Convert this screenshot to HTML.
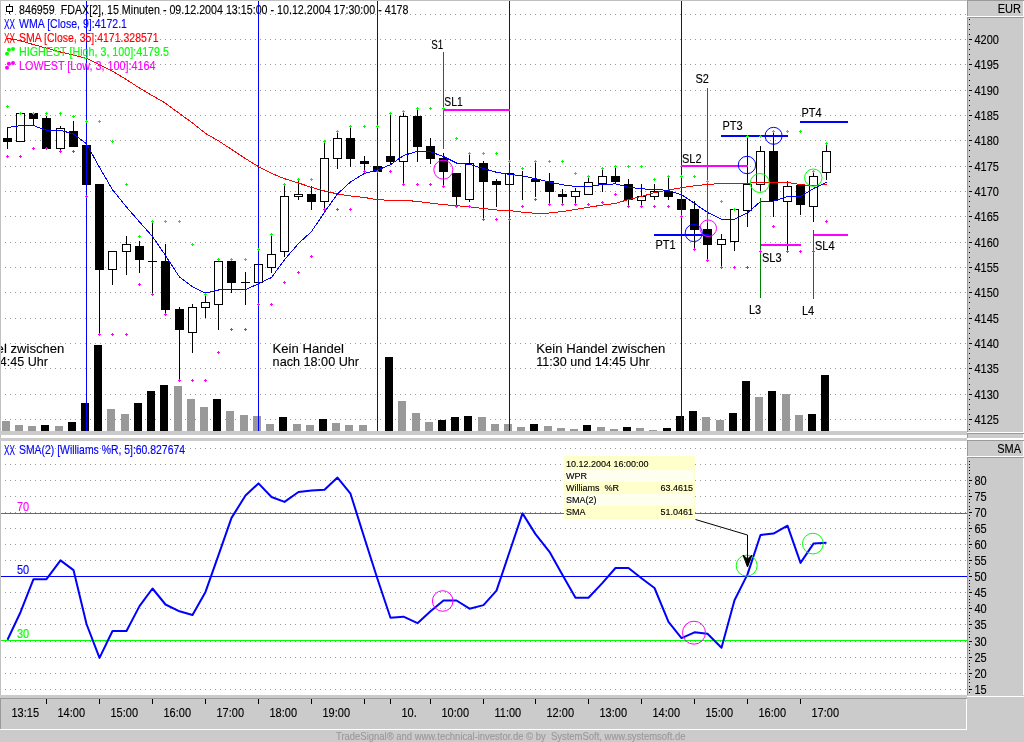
<!DOCTYPE html>
<html><head><meta charset="utf-8"><title>Chart</title><style>html,body{margin:0;padding:0;background:#cbcbcb}svg{display:block}</style></head><body>
<svg width="1024" height="742" viewBox="0 0 1024 742" shape-rendering="crispEdges" font-family="'Liberation Sans', sans-serif" font-size="11">
<rect width="1024" height="742" fill="#cbcbcb"/>
<rect x="1" y="1" width="966" height="430" fill="#fff"/>
<rect x="1" y="435" width="966" height="3" fill="#fff"/>
<rect x="1" y="441" width="966" height="254" fill="#fff"/>
<line x1="5" x2="967" y1="419.5" y2="419.5" stroke="#999" stroke-dasharray="1 4"/>
<line x1="5" x2="967" y1="394.5" y2="394.5" stroke="#999" stroke-dasharray="1 4"/>
<line x1="5" x2="967" y1="368.5" y2="368.5" stroke="#999" stroke-dasharray="1 4"/>
<line x1="5" x2="967" y1="343.5" y2="343.5" stroke="#999" stroke-dasharray="1 4"/>
<line x1="5" x2="967" y1="318.5" y2="318.5" stroke="#999" stroke-dasharray="1 4"/>
<line x1="5" x2="967" y1="292.5" y2="292.5" stroke="#999" stroke-dasharray="1 4"/>
<line x1="5" x2="967" y1="267.5" y2="267.5" stroke="#999" stroke-dasharray="1 4"/>
<line x1="5" x2="967" y1="242.5" y2="242.5" stroke="#999" stroke-dasharray="1 4"/>
<line x1="5" x2="967" y1="216.5" y2="216.5" stroke="#999" stroke-dasharray="1 4"/>
<line x1="5" x2="967" y1="191.5" y2="191.5" stroke="#999" stroke-dasharray="1 4"/>
<line x1="5" x2="967" y1="166.5" y2="166.5" stroke="#999" stroke-dasharray="1 4"/>
<line x1="5" x2="967" y1="140.5" y2="140.5" stroke="#999" stroke-dasharray="1 4"/>
<line x1="5" x2="967" y1="115.5" y2="115.5" stroke="#999" stroke-dasharray="1 4"/>
<line x1="5" x2="967" y1="90.5" y2="90.5" stroke="#999" stroke-dasharray="1 4"/>
<line x1="5" x2="967" y1="64.5" y2="64.5" stroke="#999" stroke-dasharray="1 4"/>
<line x1="5" x2="967" y1="39.5" y2="39.5" stroke="#999" stroke-dasharray="1 4"/>
<line x1="5" x2="967" y1="14.5" y2="14.5" stroke="#999" stroke-dasharray="1 4"/>
<line x1="5" x2="967" y1="448.5" y2="448.5" stroke="#999" stroke-dasharray="1 4"/>
<line x1="5" x2="967" y1="464.5" y2="464.5" stroke="#999" stroke-dasharray="1 4"/>
<line x1="5" x2="967" y1="480.5" y2="480.5" stroke="#999" stroke-dasharray="1 4"/>
<line x1="5" x2="967" y1="496.5" y2="496.5" stroke="#999" stroke-dasharray="1 4"/>
<line x1="5" x2="967" y1="512.5" y2="512.5" stroke="#999" stroke-dasharray="1 4"/>
<line x1="5" x2="967" y1="528.5" y2="528.5" stroke="#999" stroke-dasharray="1 4"/>
<line x1="5" x2="967" y1="544.5" y2="544.5" stroke="#999" stroke-dasharray="1 4"/>
<line x1="5" x2="967" y1="560.5" y2="560.5" stroke="#999" stroke-dasharray="1 4"/>
<line x1="5" x2="967" y1="576.5" y2="576.5" stroke="#999" stroke-dasharray="1 4"/>
<line x1="5" x2="967" y1="592.5" y2="592.5" stroke="#999" stroke-dasharray="1 4"/>
<line x1="5" x2="967" y1="608.5" y2="608.5" stroke="#999" stroke-dasharray="1 4"/>
<line x1="5" x2="967" y1="624.5" y2="624.5" stroke="#999" stroke-dasharray="1 4"/>
<line x1="5" x2="967" y1="641.5" y2="641.5" stroke="#999" stroke-dasharray="1 4"/>
<line x1="5" x2="967" y1="657.5" y2="657.5" stroke="#999" stroke-dasharray="1 4"/>
<line x1="5" x2="967" y1="673.5" y2="673.5" stroke="#999" stroke-dasharray="1 4"/>
<line x1="5" x2="967" y1="689.5" y2="689.5" stroke="#999" stroke-dasharray="1 4"/>
<rect x="2.0" y="421" width="8" height="10" fill="#999"/>
<rect x="15.0" y="425" width="8" height="6" fill="#999"/>
<rect x="28.0" y="426" width="8" height="5" fill="#999"/>
<rect x="41.0" y="425" width="8" height="6" fill="#000"/>
<rect x="55.0" y="426" width="8" height="5" fill="#999"/>
<rect x="68.0" y="422" width="8" height="9" fill="#000"/>
<rect x="81.0" y="403" width="8" height="28" fill="#000"/>
<rect x="94.0" y="345" width="8" height="86" fill="#000"/>
<rect x="107.0" y="409" width="8" height="22" fill="#999"/>
<rect x="121.0" y="414" width="8" height="17" fill="#999"/>
<rect x="134.0" y="403" width="8" height="28" fill="#000"/>
<rect x="147.0" y="391" width="8" height="40" fill="#000"/>
<rect x="160.0" y="385" width="8" height="46" fill="#000"/>
<rect x="174.0" y="386" width="8" height="45" fill="#999"/>
<rect x="187.0" y="399" width="8" height="32" fill="#999"/>
<rect x="200.0" y="407" width="8" height="24" fill="#999"/>
<rect x="213.0" y="399" width="8" height="32" fill="#000"/>
<rect x="226.0" y="411" width="8" height="20" fill="#999"/>
<rect x="240.0" y="415" width="8" height="16" fill="#999"/>
<rect x="253.0" y="416" width="8" height="15" fill="#999"/>
<rect x="266.0" y="424" width="8" height="7" fill="#999"/>
<rect x="279.0" y="417" width="8" height="14" fill="#000"/>
<rect x="293.0" y="424" width="8" height="7" fill="#999"/>
<rect x="306.0" y="425" width="8" height="6" fill="#999"/>
<rect x="319.0" y="419" width="8" height="12" fill="#000"/>
<rect x="332.0" y="423" width="8" height="8" fill="#999"/>
<rect x="345.0" y="425" width="8" height="6" fill="#999"/>
<rect x="359.0" y="425" width="8" height="6" fill="#999"/>
<rect x="385.0" y="357" width="8" height="74" fill="#000"/>
<rect x="398.0" y="401" width="8" height="30" fill="#999"/>
<rect x="412.0" y="413" width="8" height="18" fill="#999"/>
<rect x="425.0" y="422" width="8" height="9" fill="#999"/>
<rect x="438.0" y="420" width="8" height="11" fill="#000"/>
<rect x="451.0" y="417" width="8" height="14" fill="#000"/>
<rect x="464.0" y="416" width="8" height="15" fill="#000"/>
<rect x="478.0" y="417" width="8" height="14" fill="#999"/>
<rect x="491.0" y="424" width="8" height="7" fill="#999"/>
<rect x="504.0" y="424" width="8" height="7" fill="#999"/>
<rect x="517.0" y="427" width="8" height="4" fill="#999"/>
<rect x="530.0" y="424" width="8" height="7" fill="#000"/>
<rect x="544.0" y="426" width="8" height="5" fill="#999"/>
<rect x="557.0" y="428" width="8" height="3" fill="#999"/>
<rect x="570.0" y="429" width="8" height="2" fill="#999"/>
<rect x="583.0" y="425" width="8" height="6" fill="#000"/>
<rect x="597.0" y="427" width="8" height="4" fill="#999"/>
<rect x="610.0" y="429" width="8" height="2" fill="#999"/>
<rect x="623.0" y="427" width="8" height="4" fill="#000"/>
<rect x="636.0" y="428" width="8" height="3" fill="#999"/>
<rect x="649.0" y="430" width="8" height="1" fill="#999"/>
<rect x="663.0" y="428" width="8" height="3" fill="#000"/>
<rect x="676.0" y="416" width="8" height="15" fill="#000"/>
<rect x="689.0" y="411" width="8" height="20" fill="#000"/>
<rect x="702.0" y="417" width="8" height="14" fill="#999"/>
<rect x="716.0" y="420" width="8" height="11" fill="#999"/>
<rect x="729.0" y="413" width="8" height="18" fill="#000"/>
<rect x="742.0" y="381" width="8" height="50" fill="#000"/>
<rect x="755.0" y="397" width="8" height="34" fill="#999"/>
<rect x="768.0" y="391" width="8" height="40" fill="#000"/>
<rect x="782.0" y="394" width="8" height="37" fill="#999"/>
<rect x="795.0" y="415" width="8" height="16" fill="#999"/>
<rect x="808.0" y="414" width="8" height="17" fill="#000"/>
<rect x="821.0" y="375" width="8" height="56" fill="#000"/>
<line x1="7.5" x2="7.5" y1="128" y2="149" stroke="#000"/>
<rect x="3.0" y="138" width="9" height="4" fill="#000"/>
<line x1="20.5" x2="20.5" y1="113" y2="142" stroke="#000"/>
<rect x="16.5" y="113.5" width="8" height="28" fill="#fff" stroke="#000"/>
<line x1="33.5" x2="33.5" y1="113" y2="125" stroke="#000"/>
<rect x="29.0" y="113" width="9" height="6" fill="#000"/>
<line x1="46.5" x2="46.5" y1="116" y2="149" stroke="#000"/>
<rect x="42.0" y="118" width="9" height="31" fill="#000"/>
<line x1="60.5" x2="60.5" y1="126" y2="152" stroke="#000"/>
<rect x="56.5" y="128.5" width="8" height="20" fill="#fff" stroke="#000"/>
<line x1="73.5" x2="73.5" y1="121" y2="147" stroke="#000"/>
<rect x="69.0" y="131" width="9" height="16" fill="#000"/>
<line x1="86.5" x2="86.5" y1="141" y2="197" stroke="#000"/>
<rect x="82.0" y="145" width="9" height="40" fill="#000"/>
<line x1="99.5" x2="99.5" y1="184" y2="334" stroke="#000"/>
<rect x="95.0" y="184" width="9" height="86" fill="#000"/>
<line x1="112.5" x2="112.5" y1="251" y2="285" stroke="#000"/>
<rect x="108.5" y="251.5" width="8" height="18" fill="#fff" stroke="#000"/>
<line x1="126.5" x2="126.5" y1="236" y2="275" stroke="#000"/>
<rect x="122.5" y="244.5" width="8" height="7" fill="#fff" stroke="#000"/>
<line x1="139.5" x2="139.5" y1="241" y2="273" stroke="#000"/>
<rect x="135.0" y="246" width="9" height="14" fill="#000"/>
<line x1="152.5" x2="152.5" y1="221" y2="295" stroke="#000"/>
<line x1="148.0" x2="157.0" y1="261.5" y2="261.5" stroke="#000"/>
<line x1="165.5" x2="165.5" y1="244" y2="315" stroke="#000"/>
<rect x="161.0" y="261" width="9" height="49" fill="#000"/>
<line x1="179.5" x2="179.5" y1="307" y2="380" stroke="#000"/>
<rect x="175.0" y="309" width="9" height="21" fill="#000"/>
<line x1="192.5" x2="192.5" y1="304" y2="353" stroke="#000"/>
<rect x="188.5" y="307.5" width="8" height="25" fill="#fff" stroke="#000"/>
<line x1="205.5" x2="205.5" y1="294" y2="318" stroke="#000"/>
<rect x="201.5" y="302.5" width="8" height="5" fill="#fff" stroke="#000"/>
<line x1="218.5" x2="218.5" y1="259" y2="330" stroke="#000"/>
<rect x="214.5" y="261.5" width="8" height="43" fill="#fff" stroke="#000"/>
<line x1="231.5" x2="231.5" y1="261" y2="293" stroke="#000"/>
<rect x="227.0" y="261" width="9" height="22" fill="#000"/>
<line x1="245.5" x2="245.5" y1="272" y2="305" stroke="#000"/>
<line x1="241.0" x2="250.0" y1="282.5" y2="282.5" stroke="#000"/>
<line x1="258.5" x2="258.5" y1="249" y2="283" stroke="#000"/>
<rect x="254.5" y="264.5" width="8" height="18" fill="#fff" stroke="#000"/>
<line x1="271.5" x2="271.5" y1="235" y2="273" stroke="#000"/>
<rect x="267.5" y="254.5" width="8" height="13" fill="#fff" stroke="#000"/>
<line x1="284.5" x2="284.5" y1="184" y2="257" stroke="#000"/>
<rect x="280.5" y="196.5" width="8" height="55" fill="#fff" stroke="#000"/>
<line x1="298.5" x2="298.5" y1="180" y2="200" stroke="#000"/>
<rect x="294.5" y="194.5" width="8" height="2" fill="#fff" stroke="#000"/>
<line x1="311.5" x2="311.5" y1="186" y2="210" stroke="#000"/>
<rect x="307.0" y="194" width="9" height="8" fill="#000"/>
<line x1="324.5" x2="324.5" y1="141" y2="210" stroke="#000"/>
<rect x="320.5" y="158.5" width="8" height="43" fill="#fff" stroke="#000"/>
<line x1="337.5" x2="337.5" y1="131" y2="169" stroke="#000"/>
<rect x="333.5" y="138.5" width="8" height="20" fill="#fff" stroke="#000"/>
<line x1="350.5" x2="350.5" y1="126" y2="167" stroke="#000"/>
<rect x="346.0" y="138" width="9" height="21" fill="#000"/>
<line x1="364.5" x2="364.5" y1="156" y2="171" stroke="#000"/>
<rect x="360.0" y="161" width="9" height="3" fill="#000"/>
<line x1="377.5" x2="377.5" y1="166" y2="172" stroke="#000"/>
<rect x="373.0" y="166" width="9" height="6" fill="#000"/>
<line x1="390.5" x2="390.5" y1="113" y2="164" stroke="#000"/>
<rect x="386.0" y="156" width="9" height="6" fill="#000"/>
<line x1="403.5" x2="403.5" y1="111" y2="185" stroke="#000"/>
<rect x="399.5" y="116.5" width="8" height="45" fill="#fff" stroke="#000"/>
<line x1="417.5" x2="417.5" y1="108" y2="162" stroke="#000"/>
<rect x="413.0" y="116" width="9" height="31" fill="#000"/>
<line x1="430.5" x2="430.5" y1="138" y2="164" stroke="#000"/>
<rect x="426.0" y="146" width="9" height="13" fill="#000"/>
<line x1="443.5" x2="443.5" y1="153" y2="187" stroke="#000"/>
<rect x="439.0" y="158" width="9" height="14" fill="#000"/>
<line x1="456.5" x2="456.5" y1="173" y2="206" stroke="#000"/>
<rect x="452.0" y="173" width="9" height="24" fill="#000"/>
<line x1="469.5" x2="469.5" y1="154" y2="202" stroke="#000"/>
<rect x="465.5" y="163.5" width="8" height="36" fill="#fff" stroke="#000"/>
<line x1="483.5" x2="483.5" y1="161" y2="219" stroke="#000"/>
<rect x="479.0" y="163" width="9" height="19" fill="#000"/>
<line x1="496.5" x2="496.5" y1="179" y2="207" stroke="#000"/>
<rect x="492.0" y="181" width="9" height="4" fill="#000"/>
<line x1="509.5" x2="509.5" y1="168" y2="185" stroke="#000"/>
<rect x="505.5" y="173.5" width="8" height="11" fill="#fff" stroke="#000"/>
<line x1="522.5" x2="522.5" y1="171" y2="200" stroke="#000"/>
<line x1="535.5" x2="535.5" y1="161" y2="197" stroke="#000"/>
<rect x="531.0" y="179" width="9" height="3" fill="#000"/>
<line x1="549.5" x2="549.5" y1="173" y2="205" stroke="#000"/>
<rect x="545.0" y="181" width="9" height="11" fill="#000"/>
<line x1="562.5" x2="562.5" y1="189" y2="205" stroke="#000"/>
<rect x="558.0" y="194" width="9" height="3" fill="#000"/>
<line x1="575.5" x2="575.5" y1="188" y2="203" stroke="#000"/>
<rect x="571.5" y="191.5" width="8" height="5" fill="#fff" stroke="#000"/>
<line x1="588.5" x2="588.5" y1="176" y2="195" stroke="#000"/>
<rect x="584.5" y="182.5" width="8" height="12" fill="#fff" stroke="#000"/>
<line x1="602.5" x2="602.5" y1="168" y2="192" stroke="#000"/>
<rect x="598.5" y="176.5" width="8" height="7" fill="#fff" stroke="#000"/>
<line x1="615.5" x2="615.5" y1="166" y2="184" stroke="#000"/>
<rect x="611.0" y="176" width="9" height="6" fill="#000"/>
<line x1="628.5" x2="628.5" y1="179" y2="207" stroke="#000"/>
<rect x="624.0" y="184" width="9" height="16" fill="#000"/>
<line x1="641.5" x2="641.5" y1="184" y2="207" stroke="#000"/>
<rect x="637.5" y="196.5" width="8" height="4" fill="#fff" stroke="#000"/>
<line x1="654.5" x2="654.5" y1="184" y2="200" stroke="#000"/>
<rect x="650.5" y="191.5" width="8" height="5" fill="#fff" stroke="#000"/>
<line x1="668.5" x2="668.5" y1="176" y2="200" stroke="#000"/>
<rect x="664.0" y="191" width="9" height="6" fill="#000"/>
<line x1="681.5" x2="681.5" y1="182" y2="217" stroke="#000"/>
<rect x="677.0" y="199" width="9" height="11" fill="#000"/>
<line x1="694.5" x2="694.5" y1="201" y2="249" stroke="#000"/>
<rect x="690.0" y="209" width="9" height="21" fill="#000"/>
<line x1="707.5" x2="707.5" y1="222" y2="261" stroke="#000"/>
<rect x="703.0" y="229" width="9" height="16" fill="#000"/>
<line x1="721.5" x2="721.5" y1="234" y2="267" stroke="#000"/>
<rect x="717.5" y="239.5" width="8" height="5" fill="#fff" stroke="#000"/>
<line x1="734.5" x2="734.5" y1="209" y2="251" stroke="#000"/>
<rect x="730.5" y="209.5" width="8" height="32" fill="#fff" stroke="#000"/>
<line x1="747.5" x2="747.5" y1="136" y2="227" stroke="#000"/>
<rect x="743.5" y="184.5" width="8" height="26" fill="#fff" stroke="#000"/>
<line x1="760.5" x2="760.5" y1="146" y2="191" stroke="#000"/>
<rect x="756.5" y="151.5" width="8" height="33" fill="#fff" stroke="#000"/>
<line x1="773.5" x2="773.5" y1="131" y2="217" stroke="#000"/>
<rect x="769.0" y="151" width="9" height="50" fill="#000"/>
<line x1="787.5" x2="787.5" y1="181" y2="251" stroke="#000"/>
<rect x="783.5" y="186.5" width="8" height="15" fill="#fff" stroke="#000"/>
<line x1="800.5" x2="800.5" y1="185" y2="215" stroke="#000"/>
<rect x="796.0" y="185" width="9" height="20" fill="#000"/>
<line x1="813.5" x2="813.5" y1="171" y2="222" stroke="#000"/>
<rect x="809.5" y="176.5" width="8" height="30" fill="#fff" stroke="#000"/>
<line x1="826.5" x2="826.5" y1="144" y2="180" stroke="#000"/>
<rect x="822.5" y="151.5" width="8" height="21" fill="#fff" stroke="#000"/>
<line x1="86.5" x2="86.5" y1="1" y2="431" stroke="#00f"/>
<line x1="258.5" x2="258.5" y1="1" y2="431" stroke="#00f"/>
<line x1="377.5" x2="377.5" y1="1" y2="431" stroke="#00f"/>
<line x1="509.5" x2="509.5" y1="1" y2="431" stroke="#00f"/>
<line x1="681.5" x2="681.5" y1="1" y2="431" stroke="#00f"/>
<polyline points="7.5,38.3 20.5,40.7 33.5,44.6 46.5,48.1 60.5,52.0 73.5,55.2 86.5,58.3 99.5,64.7 112.5,71.1 126.5,79.6 139.5,88.1 152.5,95.7 165.5,103.2 179.5,113.6 192.5,123.0 205.5,133.4 218.5,140.9 231.5,149.4 245.5,158.7 258.5,166.6 271.5,173.4 284.5,178.7 298.5,183.0 311.5,187.4 324.5,191.0 337.5,193.9 350.5,196.0 364.5,197.5 377.5,199.7 390.5,200.3 403.5,200.3 417.5,201.4 430.5,203.1 443.5,204.6 456.5,205.7 469.5,206.8 483.5,208.5 496.5,210.0 509.5,210.5 522.5,212.2 535.5,213.3 549.5,213.0 562.5,211.5 575.5,209.4 588.5,207.2 602.5,205.1 615.5,203.4 628.5,199.5 641.5,196.5 654.5,192.6 668.5,190.0 681.5,187.8 694.5,185.7 707.5,184.5 721.5,183.5 734.5,183.3 747.5,183.2 760.5,182.4 773.5,182.4 787.5,182.4 800.5,184.6 813.5,185.8 826.5,184.4" fill="none" stroke="#f00" stroke-width="1" />
<polyline points="7.5,127.6 20.5,125.6 33.5,125.6 46.5,130.3 60.5,130.3 73.5,134.0 86.5,143.8 99.5,167.4 112.5,189.7 126.5,207.0 139.5,222.0 152.5,236.5 165.5,255.5 179.5,277.0 192.5,286.8 205.5,293.0 218.5,290.0 231.5,289.6 245.5,289.6 258.5,283.8 271.5,277.5 284.5,259.7 298.5,243.5 311.5,231.6 324.5,212.2 337.5,193.9 350.5,182.0 364.5,173.4 377.5,170.1 390.5,164.7 403.5,155.5 417.5,151.3 430.5,151.8 443.5,156.5 456.5,163.0 469.5,164.3 483.5,168.6 496.5,172.3 509.5,174.4 522.5,175.9 535.5,178.7 549.5,182.0 562.5,184.8 575.5,186.5 588.5,186.5 602.5,184.4 615.5,183.9 628.5,187.2 641.5,188.9 654.5,189.3 668.5,190.4 681.5,194.7 694.5,203.4 707.5,212.5 721.5,219.1 734.5,219.1 747.5,212.8 760.5,201.6 773.5,201.2 787.5,196.4 800.5,196.4 813.5,188.5 826.5,182.4" fill="none" stroke="#00f" stroke-width="1" />
<line x1="443.5" x2="443.5" y1="52" y2="149" stroke="#f00"/>
<rect x="443" y="109" width="67" height="2" fill="#f0f"/>
<line x1="707.5" x2="707.5" y1="88" y2="223" stroke="#f00"/>
<rect x="681" y="165" width="67" height="2" fill="#f0f"/>
<rect x="654" y="234" width="55" height="2" fill="#00f"/>
<rect x="721" y="135" width="67" height="2" fill="#00f"/>
<rect x="800" y="121" width="48" height="2" fill="#00f"/>
<rect x="760" y="244" width="41" height="2" fill="#f0f"/>
<rect x="814" y="234" width="34" height="2" fill="#f0f"/>
<line x1="760.5" x2="760.5" y1="198" y2="298" stroke="#008000"/>
<line x1="813.5" x2="813.5" y1="230" y2="299" stroke="#008000"/>
<circle cx="443.3" cy="169.7" r="9.5" fill="none" stroke="#f0f" shape-rendering="auto"/>
<circle cx="693.8" cy="233" r="8.6" fill="none" stroke="#00f" shape-rendering="auto"/>
<circle cx="708.2" cy="228.3" r="8.3" fill="none" stroke="#f0f" shape-rendering="auto"/>
<circle cx="747" cy="165" r="8.7" fill="none" stroke="#00f" shape-rendering="auto"/>
<circle cx="773.6" cy="135.8" r="8.5" fill="none" stroke="#00f" shape-rendering="auto"/>
<circle cx="759.8" cy="183" r="9.5" fill="none" stroke="#0f0" shape-rendering="auto"/>
<circle cx="813.3" cy="177.7" r="8.7" fill="none" stroke="#0f0" shape-rendering="auto"/>
<path d="M6 106.5h3M7.5 105v3" stroke="#0f0" fill="none"/>
<path d="M6 156.5h3M7.5 155v3" stroke="#f0f" fill="none"/>
<path d="M19 113.5h3M20.5 112v3" stroke="#0f0" fill="none"/>
<path d="M19 156.5h3M20.5 155v3" stroke="#f0f" fill="none"/>
<path d="M32 113.5h3M33.5 112v3" stroke="#0f0" fill="none"/>
<path d="M32 148.5h3M33.5 147v3" stroke="#f0f" fill="none"/>
<path d="M45 113.5h3M46.5 112v3" stroke="#0f0" fill="none"/>
<path d="M45 148.5h3M46.5 147v3" stroke="#f0f" fill="none"/>
<path d="M59 113.5h3M60.5 112v3" stroke="#0f0" fill="none"/>
<path d="M59 151.5h3M60.5 150v3" stroke="#f0f" fill="none"/>
<path d="M72 116.5h3M73.5 115v3" stroke="#0f0" fill="none"/>
<path d="M72 151.5h3M73.5 150v3" stroke="#f0f" fill="none"/>
<path d="M85 121.5h3M86.5 120v3" stroke="#0f0" fill="none"/>
<path d="M85 196.5h3M86.5 195v3" stroke="#f0f" fill="none"/>
<path d="M98 121.5h3M99.5 120v3" stroke="#0f0" fill="none"/>
<path d="M98 334.5h3M99.5 333v3" stroke="#f0f" fill="none"/>
<path d="M111 141.5h3M112.5 140v3" stroke="#0f0" fill="none"/>
<path d="M111 334.5h3M112.5 333v3" stroke="#f0f" fill="none"/>
<path d="M125 184.5h3M126.5 183v3" stroke="#0f0" fill="none"/>
<path d="M125 334.5h3M126.5 333v3" stroke="#f0f" fill="none"/>
<path d="M138 236.5h3M139.5 235v3" stroke="#0f0" fill="none"/>
<path d="M138 284.5h3M139.5 283v3" stroke="#f0f" fill="none"/>
<path d="M151 221.5h3M152.5 220v3" stroke="#0f0" fill="none"/>
<path d="M151 294.5h3M152.5 293v3" stroke="#f0f" fill="none"/>
<path d="M164 221.5h3M165.5 220v3" stroke="#0f0" fill="none"/>
<path d="M164 314.5h3M165.5 313v3" stroke="#f0f" fill="none"/>
<path d="M178 221.5h3M179.5 220v3" stroke="#0f0" fill="none"/>
<path d="M178 380.5h3M179.5 379v3" stroke="#f0f" fill="none"/>
<path d="M191 244.5h3M192.5 243v3" stroke="#0f0" fill="none"/>
<path d="M191 380.5h3M192.5 379v3" stroke="#f0f" fill="none"/>
<path d="M204 294.5h3M205.5 293v3" stroke="#0f0" fill="none"/>
<path d="M204 380.5h3M205.5 379v3" stroke="#f0f" fill="none"/>
<path d="M217 259.5h3M218.5 258v3" stroke="#0f0" fill="none"/>
<path d="M217 352.5h3M218.5 351v3" stroke="#f0f" fill="none"/>
<path d="M230 259.5h3M231.5 258v3" stroke="#0f0" fill="none"/>
<path d="M230 329.5h3M231.5 328v3" stroke="#f0f" fill="none"/>
<path d="M244 259.5h3M245.5 258v3" stroke="#0f0" fill="none"/>
<path d="M244 329.5h3M245.5 328v3" stroke="#f0f" fill="none"/>
<path d="M257 249.5h3M258.5 248v3" stroke="#0f0" fill="none"/>
<path d="M257 304.5h3M258.5 303v3" stroke="#f0f" fill="none"/>
<path d="M270 234.5h3M271.5 233v3" stroke="#0f0" fill="none"/>
<path d="M270 304.5h3M271.5 303v3" stroke="#f0f" fill="none"/>
<path d="M283 184.5h3M284.5 183v3" stroke="#0f0" fill="none"/>
<path d="M283 282.5h3M284.5 281v3" stroke="#f0f" fill="none"/>
<path d="M297 179.5h3M298.5 178v3" stroke="#0f0" fill="none"/>
<path d="M297 272.5h3M298.5 271v3" stroke="#f0f" fill="none"/>
<path d="M310 179.5h3M311.5 178v3" stroke="#0f0" fill="none"/>
<path d="M310 256.5h3M311.5 255v3" stroke="#f0f" fill="none"/>
<path d="M323 141.5h3M324.5 140v3" stroke="#0f0" fill="none"/>
<path d="M323 209.5h3M324.5 208v3" stroke="#f0f" fill="none"/>
<path d="M336 131.5h3M337.5 130v3" stroke="#0f0" fill="none"/>
<path d="M336 209.5h3M337.5 208v3" stroke="#f0f" fill="none"/>
<path d="M349 126.5h3M350.5 125v3" stroke="#0f0" fill="none"/>
<path d="M349 209.5h3M350.5 208v3" stroke="#f0f" fill="none"/>
<path d="M363 126.5h3M364.5 125v3" stroke="#0f0" fill="none"/>
<path d="M363 171.5h3M364.5 170v3" stroke="#f0f" fill="none"/>
<path d="M376 126.5h3M377.5 125v3" stroke="#0f0" fill="none"/>
<path d="M376 171.5h3M377.5 170v3" stroke="#f0f" fill="none"/>
<path d="M389 113.5h3M390.5 112v3" stroke="#0f0" fill="none"/>
<path d="M389 171.5h3M390.5 170v3" stroke="#f0f" fill="none"/>
<path d="M402 111.5h3M403.5 110v3" stroke="#0f0" fill="none"/>
<path d="M402 184.5h3M403.5 183v3" stroke="#f0f" fill="none"/>
<path d="M416 108.5h3M417.5 107v3" stroke="#0f0" fill="none"/>
<path d="M416 184.5h3M417.5 183v3" stroke="#f0f" fill="none"/>
<path d="M429 108.5h3M430.5 107v3" stroke="#0f0" fill="none"/>
<path d="M429 184.5h3M430.5 183v3" stroke="#f0f" fill="none"/>
<path d="M442 108.5h3M443.5 107v3" stroke="#0f0" fill="none"/>
<path d="M442 186.5h3M443.5 185v3" stroke="#f0f" fill="none"/>
<path d="M455 138.5h3M456.5 137v3" stroke="#0f0" fill="none"/>
<path d="M455 206.5h3M456.5 205v3" stroke="#f0f" fill="none"/>
<path d="M468 153.5h3M469.5 152v3" stroke="#0f0" fill="none"/>
<path d="M468 206.5h3M469.5 205v3" stroke="#f0f" fill="none"/>
<path d="M482 153.5h3M483.5 152v3" stroke="#0f0" fill="none"/>
<path d="M482 219.5h3M483.5 218v3" stroke="#f0f" fill="none"/>
<path d="M495 153.5h3M496.5 152v3" stroke="#0f0" fill="none"/>
<path d="M495 219.5h3M496.5 218v3" stroke="#f0f" fill="none"/>
<path d="M508 161.5h3M509.5 160v3" stroke="#0f0" fill="none"/>
<path d="M508 219.5h3M509.5 218v3" stroke="#f0f" fill="none"/>
<path d="M521 168.5h3M522.5 167v3" stroke="#0f0" fill="none"/>
<path d="M521 206.5h3M522.5 205v3" stroke="#f0f" fill="none"/>
<path d="M534 161.5h3M535.5 160v3" stroke="#0f0" fill="none"/>
<path d="M534 199.5h3M535.5 198v3" stroke="#f0f" fill="none"/>
<path d="M548 161.5h3M549.5 160v3" stroke="#0f0" fill="none"/>
<path d="M548 204.5h3M549.5 203v3" stroke="#f0f" fill="none"/>
<path d="M561 161.5h3M562.5 160v3" stroke="#0f0" fill="none"/>
<path d="M561 204.5h3M562.5 203v3" stroke="#f0f" fill="none"/>
<path d="M574 173.5h3M575.5 172v3" stroke="#0f0" fill="none"/>
<path d="M574 204.5h3M575.5 203v3" stroke="#f0f" fill="none"/>
<path d="M587 176.5h3M588.5 175v3" stroke="#0f0" fill="none"/>
<path d="M587 204.5h3M588.5 203v3" stroke="#f0f" fill="none"/>
<path d="M601 168.5h3M602.5 167v3" stroke="#0f0" fill="none"/>
<path d="M601 202.5h3M602.5 201v3" stroke="#f0f" fill="none"/>
<path d="M614 166.5h3M615.5 165v3" stroke="#0f0" fill="none"/>
<path d="M614 194.5h3M615.5 193v3" stroke="#f0f" fill="none"/>
<path d="M627 166.5h3M628.5 165v3" stroke="#0f0" fill="none"/>
<path d="M627 206.5h3M628.5 205v3" stroke="#f0f" fill="none"/>
<path d="M640 166.5h3M641.5 165v3" stroke="#0f0" fill="none"/>
<path d="M640 206.5h3M641.5 205v3" stroke="#f0f" fill="none"/>
<path d="M653 179.5h3M654.5 178v3" stroke="#0f0" fill="none"/>
<path d="M653 206.5h3M654.5 205v3" stroke="#f0f" fill="none"/>
<path d="M667 176.5h3M668.5 175v3" stroke="#0f0" fill="none"/>
<path d="M667 206.5h3M668.5 205v3" stroke="#f0f" fill="none"/>
<path d="M680 176.5h3M681.5 175v3" stroke="#0f0" fill="none"/>
<path d="M680 216.5h3M681.5 215v3" stroke="#f0f" fill="none"/>
<path d="M693 176.5h3M694.5 175v3" stroke="#0f0" fill="none"/>
<path d="M693 249.5h3M694.5 248v3" stroke="#f0f" fill="none"/>
<path d="M706 181.5h3M707.5 180v3" stroke="#0f0" fill="none"/>
<path d="M706 260.5h3M707.5 259v3" stroke="#f0f" fill="none"/>
<path d="M720 201.5h3M721.5 200v3" stroke="#0f0" fill="none"/>
<path d="M720 267.5h3M721.5 266v3" stroke="#f0f" fill="none"/>
<path d="M733 209.5h3M734.5 208v3" stroke="#0f0" fill="none"/>
<path d="M733 267.5h3M734.5 266v3" stroke="#f0f" fill="none"/>
<path d="M746 136.5h3M747.5 135v3" stroke="#0f0" fill="none"/>
<path d="M746 267.5h3M747.5 266v3" stroke="#f0f" fill="none"/>
<path d="M759 136.5h3M760.5 135v3" stroke="#0f0" fill="none"/>
<path d="M759 251.5h3M760.5 250v3" stroke="#f0f" fill="none"/>
<path d="M772 131.5h3M773.5 130v3" stroke="#0f0" fill="none"/>
<path d="M772 226.5h3M773.5 225v3" stroke="#f0f" fill="none"/>
<path d="M786 131.5h3M787.5 130v3" stroke="#0f0" fill="none"/>
<path d="M786 251.5h3M787.5 250v3" stroke="#f0f" fill="none"/>
<path d="M799 131.5h3M800.5 130v3" stroke="#0f0" fill="none"/>
<path d="M799 251.5h3M800.5 250v3" stroke="#f0f" fill="none"/>
<path d="M812 171.5h3M813.5 170v3" stroke="#0f0" fill="none"/>
<path d="M812 251.5h3M813.5 250v3" stroke="#f0f" fill="none"/>
<path d="M825 143.5h3M826.5 142v3" stroke="#0f0" fill="none"/>
<path d="M825 221.5h3M826.5 220v3" stroke="#f0f" fill="none"/>
<text transform="translate(431.3 49) scale(1 1.09)" fill="#000" stroke="#000" stroke-width="0.12" textLength="12" lengthAdjust="spacingAndGlyphs">S1</text>
<text transform="translate(444.3 106) scale(1 1.09)" fill="#000" stroke="#000" stroke-width="0.12" textLength="18.4" lengthAdjust="spacingAndGlyphs">SL1</text>
<text transform="translate(695.5 82.5) scale(1 1.09)" fill="#000" stroke="#000" stroke-width="0.12">S2</text>
<text transform="translate(682 162.5) scale(1 1.09)" fill="#000" stroke="#000" stroke-width="0.12">SL2</text>
<text transform="translate(655.5 249) scale(1 1.09)" fill="#000" stroke="#000" stroke-width="0.12">PT1</text>
<text transform="translate(722.5 130.2) scale(1 1.09)" fill="#000" stroke="#000" stroke-width="0.12">PT3</text>
<text transform="translate(801.5 117) scale(1 1.09)" fill="#000" stroke="#000" stroke-width="0.12">PT4</text>
<text transform="translate(762 261.5) scale(1 1.09)" fill="#000" stroke="#000" stroke-width="0.12">SL3</text>
<text transform="translate(815 250) scale(1 1.09)" fill="#000" stroke="#000" stroke-width="0.12">SL4</text>
<text transform="translate(749 313.5) scale(1 1.09)" fill="#000" stroke="#000" stroke-width="0.12">L3</text>
<text transform="translate(802 315) scale(1 1.09)" fill="#000" stroke="#000" stroke-width="0.12">L4</text>
<text x="-64.7" y="352.7" fill="#000" stroke="#000" stroke-width="0.12" textLength="129.1" lengthAdjust="spacingAndGlyphs" font-size="13.3">Kein Handel zwischen</text>
<text x="-65.5" y="365.8" fill="#000" stroke="#000" stroke-width="0.12" textLength="113.5" lengthAdjust="spacingAndGlyphs" font-size="13.3">11:30 und 14:45 Uhr</text>
<text x="272.6" y="352.7" fill="#000" stroke="#000" stroke-width="0.12" textLength="71.4" lengthAdjust="spacingAndGlyphs" font-size="13.3">Kein Handel</text>
<text x="272.6" y="365.8" fill="#000" stroke="#000" stroke-width="0.12" textLength="86.5" lengthAdjust="spacingAndGlyphs" font-size="13.3">nach 18:00 Uhr</text>
<text x="536.3" y="352.7" fill="#000" stroke="#000" stroke-width="0.12" textLength="129.1" lengthAdjust="spacingAndGlyphs" font-size="13.3">Kein Handel zwischen</text>
<text x="536.3" y="365.8" fill="#000" stroke="#000" stroke-width="0.12" textLength="113.5" lengthAdjust="spacingAndGlyphs" font-size="13.3">11:30 und 14:45 Uhr</text>
<path d="M9.5 4v10" stroke="#000" fill="none"/><path d="M6.5 6.5h6v5h-6z" stroke="#000" fill="#fff"/>
<text transform="translate(19 13.5) scale(1 1.09)" fill="#000" stroke="#000" stroke-width="0.12" textLength="389.5" lengthAdjust="spacingAndGlyphs">846959&#160; FDAX[2], 15 Minuten - 09.12.2004 13:15:00 - 10.12.2004 17:30:00 - 4178</text>
<text x="4" y="29" fill="#00f" stroke="#00f" stroke-width="0.12" textLength="11" lengthAdjust="spacingAndGlyphs" font-size="15">XX</text>
<text transform="translate(19 27.5) scale(1 1.09)" fill="#00f" stroke="#00f" stroke-width="0.12" textLength="108" lengthAdjust="spacingAndGlyphs">WMA [Close, 9]:4172.1</text>
<text x="4" y="43" fill="#f00" stroke="#f00" stroke-width="0.12" textLength="11" lengthAdjust="spacingAndGlyphs" font-size="15">XX</text>
<text transform="translate(19 41.5) scale(1 1.09)" fill="#f00" stroke="#f00" stroke-width="0.12" textLength="139.5" lengthAdjust="spacingAndGlyphs">SMA [Close, 35]:4171.328571</text>
<g shape-rendering="auto" fill="#0f0"><circle cx="7" cy="53.8" r="2"/><circle cx="8.9" cy="49.8" r="2"/><circle cx="13" cy="49.1" r="2"/></g>
<text transform="translate(19 55.5) scale(1 1.09)" fill="#0f0" stroke="#0f0" stroke-width="0.12" textLength="150" lengthAdjust="spacingAndGlyphs">HIGHEST [High, 3, 100]:4179.5</text>
<g shape-rendering="auto" fill="#f0f"><circle cx="7" cy="67.8" r="2"/><circle cx="8.9" cy="63.8" r="2"/><circle cx="13" cy="63.1" r="2"/></g>
<text transform="translate(19 69.5) scale(1 1.09)" fill="#f0f" stroke="#f0f" stroke-width="0.12" textLength="136.5" lengthAdjust="spacingAndGlyphs">LOWEST [Low, 3, 100]:4164</text>
<rect x="1" y="513" width="966" height="1" fill="#f0f"/>
<rect x="1" y="576" width="966" height="1" fill="#00f"/>
<rect x="1" y="640" width="966" height="1" fill="#0f0"/>
<text transform="translate(17 510.5) scale(1 1.09)" fill="#f0f" stroke="#f0f" stroke-width="0.12">70</text>
<text transform="translate(17 574) scale(1 1.09)" fill="#00f" stroke="#00f" stroke-width="0.12">50</text>
<text transform="translate(17 637.5) scale(1 1.09)" fill="#0f0" stroke="#0f0" stroke-width="0.12">30</text>
<text x="4" y="455" fill="#00f" stroke="#00f" stroke-width="0.12" textLength="11" lengthAdjust="spacingAndGlyphs" font-size="15">XX</text>
<text transform="translate(19 453.5) scale(1 1.09)" fill="#00f" stroke="#00f" stroke-width="0.12" textLength="166" lengthAdjust="spacingAndGlyphs">SMA(2) [Williams %R, 5]:60.827674</text>
<polyline points="7.5,639.8 20.5,612.2 33.5,579.2 46.5,579.2 60.5,560.4 73.5,570.1 86.5,624.0 99.5,657.9 112.5,631.0 126.5,631.0 139.5,606.1 152.5,588.5 165.5,604.5 179.5,611.3 192.5,615.0 205.5,591.9 218.5,555.2 231.5,517.9 245.5,495.5 258.5,483.4 271.5,497.0 284.5,501.9 298.5,492.0 311.5,490.5 324.5,489.8 337.5,477.6 350.5,493.7 364.5,538.2 377.5,579.0 390.5,617.8 403.5,616.7 417.5,623.2 430.5,611.3 443.5,600.5 456.5,600.5 469.5,608.7 483.5,605.1 496.5,590.6 509.5,552.0 522.5,513.4 535.5,534.1 549.5,551.8 562.5,574.9 575.5,597.7 588.5,597.7 602.5,582.9 615.5,568.0 628.5,568.0 641.5,578.3 654.5,588.0 668.5,621.9 681.5,638.1 694.5,632.3 707.5,633.8 721.5,647.8 734.5,600.3 747.5,574.4 760.5,535.0 773.5,533.6 787.5,525.7 800.5,562.9 813.5,543.6 826.5,542.8" fill="none" stroke="#00f" stroke-width="2" shape-rendering="auto" stroke-linejoin="round"/>
<circle cx="442.7" cy="601" r="10.3" fill="none" stroke="#f0f" shape-rendering="auto"/>
<circle cx="694" cy="632.7" r="11.5" fill="none" stroke="#f0f" shape-rendering="auto"/>
<circle cx="746.7" cy="565.6" r="10.5" fill="none" stroke="#0f0" shape-rendering="auto"/>
<circle cx="812.9" cy="543.6" r="10.4" fill="none" stroke="#0f0" shape-rendering="auto"/>
<rect x="564" y="456" width="131" height="63" fill="#ffffcc"/>
<rect x="565" y="470" width="129" height="12" fill="#fffff0"/>
<rect x="565" y="494" width="129" height="12" fill="#fffff0"/>
<text x="566" y="466.5" fill="#000" stroke="#000" stroke-width="0.12" font-size="9">10.12.2004 16:00:00</text>
<text x="566" y="478.5" fill="#000" stroke="#000" stroke-width="0.12" font-size="9">WPR</text>
<text x="566" y="490.5" fill="#000" stroke="#000" stroke-width="0.12" font-size="9">Williams&#160; %R</text>
<text x="693" y="490.5" fill="#000" stroke="#000" stroke-width="0.12" text-anchor="end" font-size="9">63.4615</text>
<text x="566" y="502.5" fill="#000" stroke="#000" stroke-width="0.12" font-size="9">SMA(2)</text>
<text x="566" y="514.5" fill="#000" stroke="#000" stroke-width="0.12" font-size="9">SMA</text>
<text x="693" y="514.5" fill="#000" stroke="#000" stroke-width="0.12" text-anchor="end" font-size="9">51.0461</text>
<path d="M695.5 519.5L747.5 535V566" stroke="#000" fill="none" shape-rendering="auto"/>
<path d="M743 555L747.5 567L752 555L747.5 559z" fill="#000" stroke="#000" shape-rendering="auto"/>
<rect x="967" y="0" width="57" height="742" fill="#cbcbcb"/>
<rect x="967" y="0" width="1" height="695" fill="#999"/>
<rect x="1023" y="0" width="1" height="695" fill="#fff"/>
<rect x="967" y="0" width="57" height="1" fill="#999"/>
<rect x="967" y="16" width="57" height="1" fill="#fff"/><rect x="967" y="17" width="57" height="1" fill="#999"/>
<text transform="translate(1021 13) scale(1 1.09)" fill="#000" stroke="#000" stroke-width="0.12" text-anchor="end">EUR</text>
<rect x="967" y="432" width="57" height="1" fill="#fff"/><rect x="967" y="433" width="57" height="1" fill="#999"/>
<rect x="967" y="438" width="57" height="2" fill="#fff"/><rect x="967" y="440" width="57" height="1" fill="#999"/>
<rect x="967" y="456" width="57" height="1" fill="#fff"/><rect x="967" y="457" width="57" height="1" fill="#999"/>
<text transform="translate(1021 453) scale(1 1.09)" fill="#000" stroke="#000" stroke-width="0.12" text-anchor="end">SMA</text>
<path d="M969 429.5h1M969 424.5h1M969 419.5h1M969 414.5h1M969 409.5h1M969 404.5h1M969 399.5h1M969 394.5h1M969 389.5h1M969 384.5h1M969 378.5h1M969 373.5h1M969 368.5h1M969 363.5h1M969 358.5h1M969 353.5h1M969 348.5h1M969 343.5h1M969 338.5h1M969 333.5h1M969 328.5h1M969 323.5h1M969 318.5h1M969 313.5h1M969 308.5h1M969 302.5h1M969 297.5h1M969 292.5h1M969 287.5h1M969 282.5h1M969 277.5h1M969 272.5h1M969 267.5h1M969 262.5h1M969 257.5h1M969 252.5h1M969 247.5h1M969 242.5h1M969 237.5h1M969 232.5h1M969 226.5h1M969 221.5h1M969 216.5h1M969 211.5h1M969 206.5h1M969 201.5h1M969 196.5h1M969 191.5h1M969 186.5h1M969 181.5h1M969 176.5h1M969 171.5h1M969 166.5h1M969 161.5h1M969 156.5h1M969 150.5h1M969 145.5h1M969 140.5h1M969 135.5h1M969 130.5h1M969 125.5h1M969 120.5h1M969 115.5h1M969 110.5h1M969 105.5h1M969 100.5h1M969 95.5h1M969 90.5h1M969 85.5h1M969 80.5h1M969 74.5h1M969 69.5h1M969 64.5h1M969 59.5h1M969 54.5h1M969 49.5h1M969 44.5h1M969 39.5h1M969 34.5h1M969 29.5h1M969 24.5h1M969 19.5h1M969 692.5h1M969 689.5h1M969 686.5h1M969 682.5h1M969 679.5h1M969 676.5h1M969 673.5h1M969 669.5h1M969 666.5h1M969 663.5h1M969 660.5h1M969 657.5h1M969 653.5h1M969 650.5h1M969 647.5h1M969 644.5h1M969 641.5h1M969 637.5h1M969 634.5h1M969 631.5h1M969 628.5h1M969 624.5h1M969 621.5h1M969 618.5h1M969 615.5h1M969 612.5h1M969 608.5h1M969 605.5h1M969 602.5h1M969 599.5h1M969 596.5h1M969 592.5h1M969 589.5h1M969 586.5h1M969 583.5h1M969 580.5h1M969 576.5h1M969 573.5h1M969 570.5h1M969 567.5h1M969 563.5h1M969 560.5h1M969 557.5h1M969 554.5h1M969 551.5h1M969 547.5h1M969 544.5h1M969 541.5h1M969 538.5h1M969 535.5h1M969 531.5h1M969 528.5h1M969 525.5h1M969 522.5h1M969 518.5h1M969 515.5h1M969 512.5h1M969 509.5h1M969 506.5h1M969 502.5h1M969 499.5h1M969 496.5h1M969 493.5h1M969 490.5h1M969 486.5h1M969 483.5h1M969 480.5h1M969 477.5h1M969 473.5h1M969 470.5h1M969 467.5h1M969 464.5h1M969 461.5h1" stroke="#000" fill="none"/>
<line x1="969" x2="972" y1="419.5" y2="419.5" stroke="#000"/>
<text transform="translate(974.5 423.6) scale(1 1.09)" fill="#000" stroke="#000" stroke-width="0.12">4125</text>
<line x1="969" x2="972" y1="394.5" y2="394.5" stroke="#000"/>
<text transform="translate(974.5 398.6) scale(1 1.09)" fill="#000" stroke="#000" stroke-width="0.12">4130</text>
<line x1="969" x2="972" y1="368.5" y2="368.5" stroke="#000"/>
<text transform="translate(974.5 372.6) scale(1 1.09)" fill="#000" stroke="#000" stroke-width="0.12">4135</text>
<line x1="969" x2="972" y1="343.5" y2="343.5" stroke="#000"/>
<text transform="translate(974.5 347.6) scale(1 1.09)" fill="#000" stroke="#000" stroke-width="0.12">4140</text>
<line x1="969" x2="972" y1="318.5" y2="318.5" stroke="#000"/>
<text transform="translate(974.5 322.6) scale(1 1.09)" fill="#000" stroke="#000" stroke-width="0.12">4145</text>
<line x1="969" x2="972" y1="292.5" y2="292.5" stroke="#000"/>
<text transform="translate(974.5 296.6) scale(1 1.09)" fill="#000" stroke="#000" stroke-width="0.12">4150</text>
<line x1="969" x2="972" y1="267.5" y2="267.5" stroke="#000"/>
<text transform="translate(974.5 271.6) scale(1 1.09)" fill="#000" stroke="#000" stroke-width="0.12">4155</text>
<line x1="969" x2="972" y1="242.5" y2="242.5" stroke="#000"/>
<text transform="translate(974.5 246.6) scale(1 1.09)" fill="#000" stroke="#000" stroke-width="0.12">4160</text>
<line x1="969" x2="972" y1="216.5" y2="216.5" stroke="#000"/>
<text transform="translate(974.5 220.6) scale(1 1.09)" fill="#000" stroke="#000" stroke-width="0.12">4165</text>
<line x1="969" x2="972" y1="191.5" y2="191.5" stroke="#000"/>
<text transform="translate(974.5 195.6) scale(1 1.09)" fill="#000" stroke="#000" stroke-width="0.12">4170</text>
<line x1="969" x2="972" y1="166.5" y2="166.5" stroke="#000"/>
<text transform="translate(974.5 170.6) scale(1 1.09)" fill="#000" stroke="#000" stroke-width="0.12">4175</text>
<line x1="969" x2="972" y1="140.5" y2="140.5" stroke="#000"/>
<text transform="translate(974.5 144.6) scale(1 1.09)" fill="#000" stroke="#000" stroke-width="0.12">4180</text>
<line x1="969" x2="972" y1="115.5" y2="115.5" stroke="#000"/>
<text transform="translate(974.5 119.6) scale(1 1.09)" fill="#000" stroke="#000" stroke-width="0.12">4185</text>
<line x1="969" x2="972" y1="90.5" y2="90.5" stroke="#000"/>
<text transform="translate(974.5 94.6) scale(1 1.09)" fill="#000" stroke="#000" stroke-width="0.12">4190</text>
<line x1="969" x2="972" y1="64.5" y2="64.5" stroke="#000"/>
<text transform="translate(974.5 68.6) scale(1 1.09)" fill="#000" stroke="#000" stroke-width="0.12">4195</text>
<line x1="969" x2="972" y1="39.5" y2="39.5" stroke="#000"/>
<text transform="translate(974.5 43.6) scale(1 1.09)" fill="#000" stroke="#000" stroke-width="0.12">4200</text>
<line x1="969" x2="972" y1="480.5" y2="480.5" stroke="#000"/>
<text transform="translate(974.5 484.6) scale(1 1.09)" fill="#000" stroke="#000" stroke-width="0.12">80</text>
<line x1="969" x2="972" y1="496.5" y2="496.5" stroke="#000"/>
<text transform="translate(974.5 500.6) scale(1 1.09)" fill="#000" stroke="#000" stroke-width="0.12">75</text>
<line x1="969" x2="972" y1="512.5" y2="512.5" stroke="#000"/>
<text transform="translate(974.5 516.6) scale(1 1.09)" fill="#000" stroke="#000" stroke-width="0.12">70</text>
<line x1="969" x2="972" y1="528.5" y2="528.5" stroke="#000"/>
<text transform="translate(974.5 532.6) scale(1 1.09)" fill="#000" stroke="#000" stroke-width="0.12">65</text>
<line x1="969" x2="972" y1="544.5" y2="544.5" stroke="#000"/>
<text transform="translate(974.5 548.6) scale(1 1.09)" fill="#000" stroke="#000" stroke-width="0.12">60</text>
<line x1="969" x2="972" y1="560.5" y2="560.5" stroke="#000"/>
<text transform="translate(974.5 564.6) scale(1 1.09)" fill="#000" stroke="#000" stroke-width="0.12">55</text>
<line x1="969" x2="972" y1="576.5" y2="576.5" stroke="#000"/>
<text transform="translate(974.5 580.6) scale(1 1.09)" fill="#000" stroke="#000" stroke-width="0.12">50</text>
<line x1="969" x2="972" y1="592.5" y2="592.5" stroke="#000"/>
<text transform="translate(974.5 596.6) scale(1 1.09)" fill="#000" stroke="#000" stroke-width="0.12">45</text>
<line x1="969" x2="972" y1="608.5" y2="608.5" stroke="#000"/>
<text transform="translate(974.5 612.6) scale(1 1.09)" fill="#000" stroke="#000" stroke-width="0.12">40</text>
<line x1="969" x2="972" y1="624.5" y2="624.5" stroke="#000"/>
<text transform="translate(974.5 628.6) scale(1 1.09)" fill="#000" stroke="#000" stroke-width="0.12">35</text>
<line x1="969" x2="972" y1="641.5" y2="641.5" stroke="#000"/>
<text transform="translate(974.5 645.6) scale(1 1.09)" fill="#000" stroke="#000" stroke-width="0.12">30</text>
<line x1="969" x2="972" y1="657.5" y2="657.5" stroke="#000"/>
<text transform="translate(974.5 661.6) scale(1 1.09)" fill="#000" stroke="#000" stroke-width="0.12">25</text>
<line x1="969" x2="972" y1="673.5" y2="673.5" stroke="#000"/>
<text transform="translate(974.5 677.6) scale(1 1.09)" fill="#000" stroke="#000" stroke-width="0.12">20</text>
<line x1="969" x2="972" y1="689.5" y2="689.5" stroke="#000"/>
<text transform="translate(974.5 693.6) scale(1 1.09)" fill="#000" stroke="#000" stroke-width="0.12">15</text>
<rect x="0" y="0" width="1" height="695" fill="#c0c0c0"/>
<rect x="0" y="0" width="967" height="1" fill="#c0c0c0"/>
<rect x="0" y="431" width="967" height="4" fill="#cbcbcb"/><rect x="0" y="438" width="967" height="3" fill="#cbcbcb"/>
<rect x="0" y="695" width="967" height="34" fill="#cbcbcb"/>
<rect x="0" y="698" width="967" height="1" fill="#999"/><rect x="0" y="698" width="1" height="31" fill="#999"/>
<rect x="967" y="696" width="57" height="1" fill="#fff"/>
<rect x="0" y="729" width="967" height="1" fill="#fff"/><rect x="966" y="699" width="1" height="31" fill="#fff"/>
<text transform="translate(11.5 717) scale(1 1.09)" fill="#000" stroke="#000" stroke-width="0.12">13:15</text>
<line x1="46.5" x2="46.5" y1="699" y2="704" stroke="#000"/>
<text transform="translate(57.5 717) scale(1 1.09)" fill="#000" stroke="#000" stroke-width="0.12">14:00</text>
<line x1="99.5" x2="99.5" y1="699" y2="704" stroke="#000"/>
<text transform="translate(110.5 717) scale(1 1.09)" fill="#000" stroke="#000" stroke-width="0.12">15:00</text>
<line x1="152.5" x2="152.5" y1="699" y2="704" stroke="#000"/>
<text transform="translate(163.5 717) scale(1 1.09)" fill="#000" stroke="#000" stroke-width="0.12">16:00</text>
<line x1="205.5" x2="205.5" y1="699" y2="704" stroke="#000"/>
<text transform="translate(216.5 717) scale(1 1.09)" fill="#000" stroke="#000" stroke-width="0.12">17:00</text>
<line x1="258.5" x2="258.5" y1="699" y2="704" stroke="#000"/>
<text transform="translate(269.5 717) scale(1 1.09)" fill="#000" stroke="#000" stroke-width="0.12">18:00</text>
<line x1="311.5" x2="311.5" y1="699" y2="704" stroke="#000"/>
<text transform="translate(322.5 717) scale(1 1.09)" fill="#000" stroke="#000" stroke-width="0.12">19:00</text>
<line x1="364.5" x2="364.5" y1="699" y2="704" stroke="#000"/>
<line x1="390.5" x2="390.5" y1="699" y2="704" stroke="#000"/>
<text transform="translate(401.5 717) scale(1 1.09)" fill="#000" stroke="#000" stroke-width="0.12">10.</text>
<line x1="430.5" x2="430.5" y1="699" y2="704" stroke="#000"/>
<text transform="translate(441.5 717) scale(1 1.09)" fill="#000" stroke="#000" stroke-width="0.12">10:00</text>
<line x1="483.5" x2="483.5" y1="699" y2="704" stroke="#000"/>
<text transform="translate(494.5 717) scale(1 1.09)" fill="#000" stroke="#000" stroke-width="0.12">11:00</text>
<line x1="535.5" x2="535.5" y1="699" y2="704" stroke="#000"/>
<text transform="translate(546.5 717) scale(1 1.09)" fill="#000" stroke="#000" stroke-width="0.12">12:00</text>
<line x1="588.5" x2="588.5" y1="699" y2="704" stroke="#000"/>
<text transform="translate(599.5 717) scale(1 1.09)" fill="#000" stroke="#000" stroke-width="0.12">13:00</text>
<line x1="641.5" x2="641.5" y1="699" y2="704" stroke="#000"/>
<text transform="translate(652.5 717) scale(1 1.09)" fill="#000" stroke="#000" stroke-width="0.12">14:00</text>
<line x1="694.5" x2="694.5" y1="699" y2="704" stroke="#000"/>
<text transform="translate(705.5 717) scale(1 1.09)" fill="#000" stroke="#000" stroke-width="0.12">15:00</text>
<line x1="747.5" x2="747.5" y1="699" y2="704" stroke="#000"/>
<text transform="translate(758.5 717) scale(1 1.09)" fill="#000" stroke="#000" stroke-width="0.12">16:00</text>
<line x1="800.5" x2="800.5" y1="699" y2="704" stroke="#000"/>
<text transform="translate(811.5 717) scale(1 1.09)" fill="#000" stroke="#000" stroke-width="0.12">17:00</text>
<text x="336" y="740" fill="#999" stroke="#999" stroke-width="0.12" textLength="349.5" lengthAdjust="spacingAndGlyphs" font-size="10">TradeSignal&#174; and www.technical-investor.de &#169; by&#160; SystemSoft, www.systemsoft.de</text>
</svg>
</body></html>
